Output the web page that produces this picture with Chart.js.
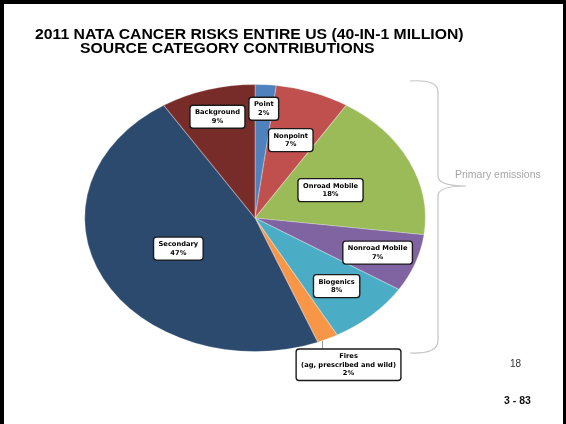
<!DOCTYPE html>
<html><head><meta charset="utf-8">
<script src="https://cdn.jsdelivr.net/npm/chart.js@4/dist/chart.umd.min.js"></script>
<style>
html,body{margin:0;padding:0;background:#fff;}
#wrap{position:relative;width:566px;height:424px;overflow:hidden;font-family:"Liberation Sans",Arial,sans-serif;}
#chartBox{position:absolute;left:0;top:0;width:566px;height:424px;}
.frame{position:absolute;left:0;top:0;width:566px;height:424px;box-sizing:border-box;border-style:solid;border-color:#000;border-width:4px 3px 0 4px;pointer-events:none;}
.t{position:absolute;font-weight:bold;font-size:14px;line-height:14px;white-space:nowrap;transform-origin:0 0;transform:scaleX(1.125);color:#000;}
.note{position:absolute;white-space:nowrap;}
svg{position:absolute;left:0;top:0;pointer-events:none;}
</style>
</head><body>
<div id="wrap">
  <div id="chartBox"><canvas id="c"></canvas></div>
  <div class="t" style="left:35px;top:27px;">2011 NATA CANCER RISKS ENTIRE US (40-IN-1 MILLION)</div>
  <div class="t" style="left:80px;top:40.5px;">SOURCE CATEGORY CONTRIBUTIONS</div>
  <svg width="566" height="424"><path d="M410,81 Q438,79 438,92 L438,176 Q438,186 466,186 Q438,186 438,196 L438,341 Q438,354 410,353" fill="none" stroke="#c4c4c4" stroke-width="1.2"/></svg>
  <div class="note" style="left:455px;top:168.5px;font-size:10.5px;line-height:10.5px;color:#a6a6a6;">Primary emissions</div>
  <div class="note" style="left:510px;top:359px;font-size:10px;line-height:10px;color:#333;">18</div>
  <div class="note" style="left:504px;top:395px;font-size:10.5px;line-height:10.5px;font-weight:bold;color:#111;">3 - 83</div>
  <div class="frame"></div>
</div>
<script>
// ---- data ----
const categories = ['Point','Nonpoint','Onroad Mobile','Nonroad Mobile','Biogenics','Fires (ag, prescribed and wild)','Secondary','Background'];
const shares = [2, 7, 18, 7, 8, 2, 47, 9];
const sliceColors = ['#4f81bd','#c0504d','#9bbb59','#8064a2','#4bacc6','#f79646','#2c4a6e','#772c2a'];

const ellipseLabels = {
  id: 'ellipseLabels',
  beforeDatasetsDraw(chart, args, opts) {
    const el = chart.getDatasetMeta(0).data[0];
    const ctx = chart.ctx;
    ctx.save();
    ctx.translate(el.x, el.y);
    ctx.scale(opts.sx, 1);
    ctx.translate(-el.x, -el.y);
  },
  afterDatasetsDraw(chart, args, opts) {
    const ctx = chart.ctx;
    ctx.restore();
    const meta = chart.getDatasetMeta(0);
    const data = chart.data.datasets[0].data;
    const total = data.reduce((a, b) => a + b, 0);
    ctx.save();
    ctx.font = opts.font;
    ctx.textAlign = 'center';
    ctx.textBaseline = 'middle';
    meta.data.forEach((el, i) => {
      const p = el.getProps(['x','y','startAngle','endAngle','outerRadius'], true);
      const mid = (p.startAngle + p.endAngle) / 2;
      const name = chart.data.labels[i];
      const lines = name.replace(' (', '\n(').split('\n');
      lines.push(Math.round(data[i] / total * 100) + '%');
      const lh = opts.lineHeight;
      let w = 0;
      lines.forEach(l => { w = Math.max(w, ctx.measureText(l).width); });
      const bw = w + opts.padX * 2, bh = lines.length * lh + opts.padY * 2;
      let cx, cy;
      const f = opts.radial[i];
      if (f === null) {
        const ex = p.x + Math.cos(mid) * p.outerRadius * opts.sx;
        const ey = p.y + Math.sin(mid) * p.outerRadius;
        cx = ex + opts.outside.dx;
        cy = ey + opts.outside.dy;
        ctx.beginPath();
        ctx.strokeStyle = '#999';
        ctx.lineWidth = 1;
        ctx.moveTo(ex - 5, ey + 2);
        ctx.lineTo(ex - 5, cy - bh / 2);
        ctx.stroke();
      } else {
        cx = p.x + Math.cos(mid) * p.outerRadius * f * opts.sx;
        cy = p.y + Math.sin(mid) * p.outerRadius * f;
      }
      ctx.beginPath();
      ctx.roundRect(cx - bw / 2, cy - bh / 2, bw, bh, 3);
      ctx.fillStyle = '#fff';
      ctx.fill();
      ctx.lineWidth = 1.4;
      ctx.strokeStyle = '#1a1a1a';
      ctx.stroke();
      ctx.fillStyle = '#000';
      lines.forEach((l, k) => {
        ctx.fillText(l, cx, cy - (lines.length - 1) * lh / 2 + k * lh);
      });
    });
    ctx.restore();
  }
};

new Chart(document.getElementById('c'), {
  type: 'pie',
  data: {
    labels: categories,
    datasets: [{
      data: shares,
      backgroundColor: sliceColors,
      borderColor: 'rgba(255,255,255,0.25)',
      borderWidth: 1
    }]
  },
  options: {
    responsive: true,
    maintainAspectRatio: false,
    animation: false,
    layout: { padding: { left: 121, right: 177, top: 84, bottom: 72 } },
    plugins: {
      legend: { display: false },
      tooltip: { enabled: false },
      title: { display: false },
      ellipseLabels: {
        sx: 1.276,
        font: 'bold 6.7px "DejaVu Sans"',
        lineHeight: 8.5,
        padX: 5,
        padY: 3,
        radial: [0.82, 0.62, 0.49, 0.765, 0.70, null, 0.505, 0.79],
        outside: { dx: 21, dy: 26 }
      }
    }
  },
  plugins: [ellipseLabels]
});
</script>
</body></html>
